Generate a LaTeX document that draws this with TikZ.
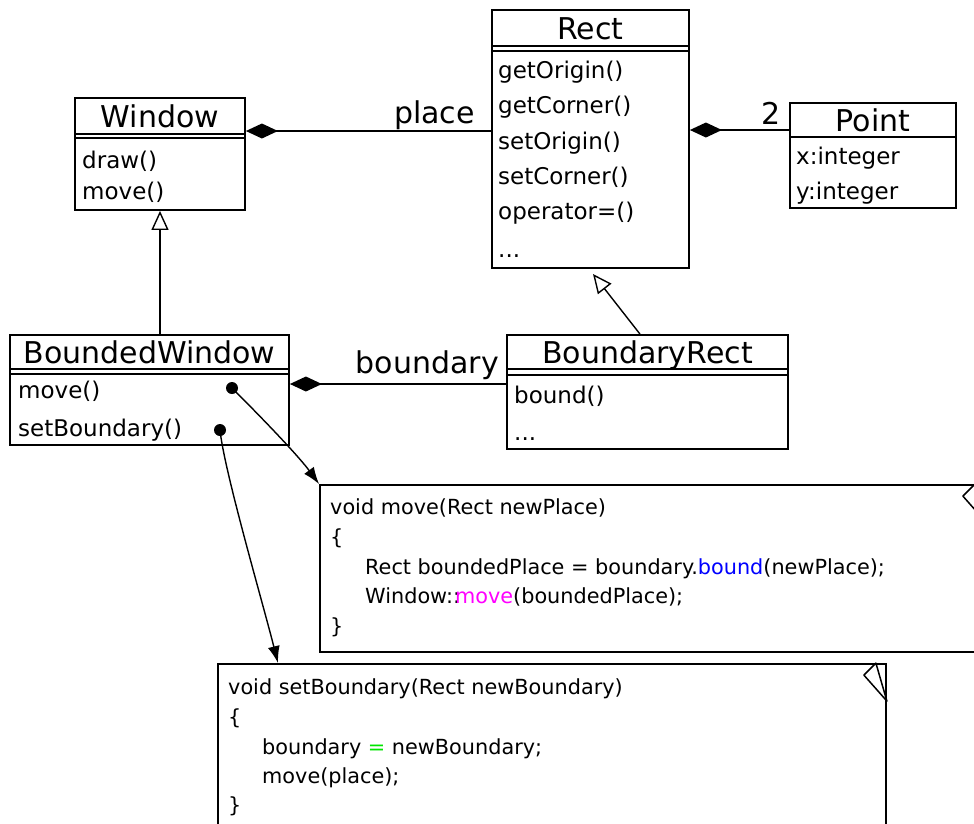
\documentclass[tikz,border=0pt]{standalone}
\usepackage{fontspec}
\setmainfont{DejaVu Sans}
\usetikzlibrary{arrows.meta}
\definecolor{codeblue}{RGB}{0,0,255}
\definecolor{codemag}{RGB}{255,0,255}
\definecolor{codegreen}{RGB}{0,230,0}
\begin{document}
\begin{tikzpicture}[x=1pt,y=-1pt,
  cbox/.style={draw, fill=white, rectangle, inner sep=0pt, line width=1.8pt},
  cname/.style={font=\fontsize{30}{36}\selectfont, inner sep=0pt, text height=22pt, text depth=0pt},
  meth/.style={font=\fontsize{23}{27}\selectfont, inner sep=0pt, anchor=west, text height=14.5pt, text depth=0pt},
  code/.style={font=\fontsize{20.8}{25}\selectfont, inner sep=0pt, anchor=west, text height=13pt, text depth=0pt},
  lbl/.style={font=\fontsize{30}{36}\selectfont, inner sep=0pt},
  sep/.style={line width=1.5pt},
  fold/.style={line width=1.5pt, line join=round},
  conn/.style={line width=1.4pt},
  comp/.style={conn, -{Diamond[length=32pt,width=15pt]}},
  inh/.style={conn, -{Triangle[open,length=19pt,width=17pt,fill=white]}},
  ptr/.style={conn, -{Latex[length=17pt,width=12pt]}},
  dot/.style={circle, fill=black, inner sep=0pt, minimum size=12pt},
]
\useasboundingbox (0,0) rectangle (974,823);
\clip (0,0) rectangle (974,823);
\fill[white] (0,0) rectangle (974,823);

% ---------- class boxes ----------
\node[cbox, minimum width=170, minimum height=112] (window) at (160,154) {};
\node[cbox, minimum width=197, minimum height=258] (rect) at (590.5,139) {};
\node[cbox, minimum width=166, minimum height=105] (point) at (873,155.5) {};
\node[cbox, minimum width=279, minimum height=110] (bwin) at (149.5,390) {};
\node[cbox, minimum width=281, minimum height=114] (brect) at (647.5,392) {};

% separators
\draw[sep] ([yshift=-37pt]window.north west) -- ([yshift=-37pt]window.north east);
\draw[sep] ([yshift=-41pt]window.north west) -- ([yshift=-41pt]window.north east);
\draw[sep] ([yshift=-37pt]rect.north west) -- ([yshift=-37pt]rect.north east);
\draw[sep] ([yshift=-42pt]rect.north west) -- ([yshift=-42pt]rect.north east);
\draw[sep] ([yshift=-35pt]point.north west) -- ([yshift=-35pt]point.north east);
\draw[sep] ([yshift=-35pt]bwin.north west) -- ([yshift=-35pt]bwin.north east);
\draw[sep] ([yshift=-40pt]bwin.north west) -- ([yshift=-40pt]bwin.north east);
\draw[sep] ([yshift=-35pt]brect.north west) -- ([yshift=-35pt]brect.north east);
\draw[sep] ([yshift=-41pt]brect.north west) -- ([yshift=-41pt]brect.north east);

% class names
\node[cname] (nwindow) at (160,116.5) {Window};
\node[cname] (nrect) at (590.5,28.5) {Rect};
\node[cname] (npoint) at (873,120.5) {Point};
\node[cname] (nbwin) at (149.5,352.5) {BoundedWindow};
\node[cname] (nbrect) at (647.5,352.5) {BoundaryRect};

% members
\node[meth] (wm1) at (82,161) {draw()};
\node[meth] (wm2) at (82,192) {move()};

\node[meth] (rm1) at (498,71) {getOrigin()};
\node[meth] (rm2) at (498,106) {getCorner()};
\node[meth] (rm3) at (498,142) {setOrigin()};
\node[meth] (rm4) at (498,177) {setCorner()};
\node[meth] (rm5) at (498,212) {operator=()};
\node[meth] (rm6) at (498,250) {...};

\node[meth] (pm1) at (796,157) {x:integer};
\node[meth] (pm2) at (796,192) {y:integer};

\node[meth] (bm1) at (18,391) {move()};
\node[meth] (bm2) at (18,429) {setBoundary()};

\node[meth] (brm1) at (514,396) {bound()};
\node[meth] (brm2) at (514,433) {...};

% ---------- associations ----------
\coordinate (placey) at (400,131);
\draw[comp] (rect.west |- placey) -- (window.east |- placey);
\node[lbl, anchor=base east] (lplace) at (475,123) {place};

\coordinate (pointy) at (740,130);
\draw[comp] (point.west |- pointy) -- (rect.east |- pointy);
\node[lbl, anchor=base] (ltwo) at (771,124) {2};

\coordinate (boundy) at (400,384);
\draw[comp] (brect.west |- boundy) -- (bwin.east |- boundy);
\node[lbl, anchor=base east] (lboundary) at (499,373) {boundary};

% ---------- inheritance ----------
\draw[inh] (bwin.north -| window.south) -- (window.south);
\coordinate (rtip) at (593,274);
\draw[inh] ([xshift=-7.5pt]brect.north) -- (rtip);

% ---------- notes ----------
\node[cbox, minimum width=665, minimum height=167] (note1) at (652.5,568.5) {};
\draw[fold] ([xshift=-11pt]note1.north east) -- ([xshift=-23pt,yshift=-12pt]note1.north east) -- ([yshift=-38pt]note1.north east) -- cycle;
\node[code] (c11) at (330,508) {void move(Rect newPlace)};
\node[code] (c12) at (330,538) {\{};
\node[code] (c13) at (365,568) {Rect boundedPlace = boundary.\textcolor{codeblue}{bound}(newPlace);};
\node[code] (c14) at (365,597) {Window::\hspace{-5pt}\textcolor{codemag}{move}(boundedPlace);};
\node[code] (c15) at (330,627) {\}};

\node[cbox, minimum width=668, minimum height=180] (note2) at (552,754) {};
\draw[fold] ([xshift=-11pt]note2.north east) -- ([xshift=-23pt,yshift=-12pt]note2.north east) -- ([yshift=-38pt]note2.north east) -- cycle;
\node[code] (c21) at (228,688) {void setBoundary(Rect newBoundary)};
\node[code] (c22) at (228,718) {\{};
\node[code] (c23) at (262,748) {boundary \textcolor{codegreen}{=} newBoundary;};
\node[code] (c24) at (262,777) {move(place);};
\node[code] (c25) at (228,806) {\}};

% ---------- note links ----------
\node[dot] (d1) at (232,388) {};
\node[dot] (d2) at (220,430) {};
\draw[ptr] (d1.center) .. controls (270,426) and (300,458) .. (note1.north west);
\draw[ptr] (d2.center) .. controls (224,470) and (262,600) .. (note2.north west -| 278,0);
\end{tikzpicture}
\end{document}
